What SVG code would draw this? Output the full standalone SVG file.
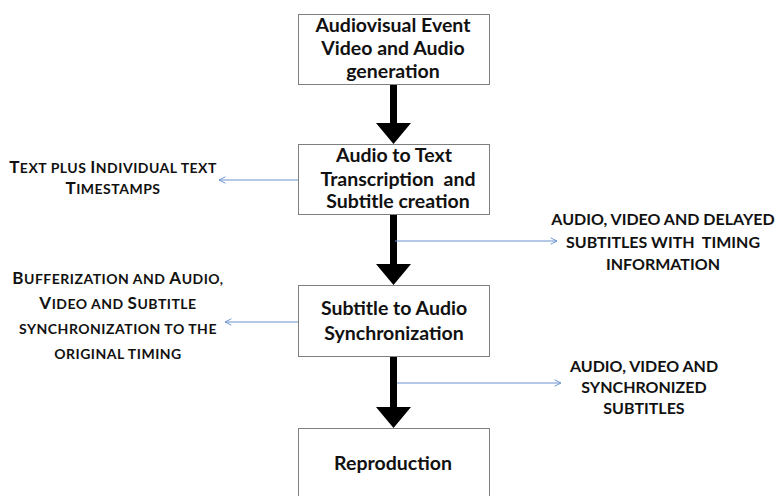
<svg xmlns="http://www.w3.org/2000/svg" width="782" height="496" viewBox="0 0 782 496">
  <style>
    .box { fill: #ffffff; stroke: #7f7f7f; stroke-width: 1; }
    .main { font-family: Lato, "Open Sans", "DejaVu Sans", sans-serif; font-weight: 700; font-size: 19.5px; fill: #111111; text-anchor: middle; }
    .side { font-family: Lato, "Open Sans", "DejaVu Sans", sans-serif; font-weight: 700; font-size: 16px; fill: #111111; text-anchor: middle; }
    .sc { font-family: Lato, "Open Sans", "DejaVu Sans", sans-serif; font-weight: 700; font-size: 14px; letter-spacing: 0.5px; fill: #111111; text-anchor: middle; }
    .cap { font-size: 17px; }
    .flow { fill: #000000; }
    .info { stroke: #6a93cf; stroke-width: 1; fill: none; marker-end: url(#chev); }
  </style>
  <defs>
    <marker id="chev" viewBox="0 0 10 10" refX="9" refY="5" markerWidth="8" markerHeight="8" markerUnits="userSpaceOnUse" orient="auto">
      <path d="M1,1 L9,5 L1,9" fill="none" stroke="#6a93cf" stroke-width="1.2"/>
    </marker>
  </defs>

  <rect width="782" height="496" fill="#ffffff"/>

  <!-- connectors: thick flow arrows and thin information arrows -->
  <g id="connectors">
    <path class="flow" d="M390,84 H397 V123 H411 L393.5,144 L376,123 H390 Z"/>
    <path class="flow" d="M390,214 H397 V264 H411 L393.5,285 L376,264 H390 Z"/>
    <path class="flow" d="M390,356 H397 V407 H411 L393.5,428 L376,407 H390 Z"/>
    <line class="info" x1="298" y1="180" x2="219" y2="180"/>
    <line class="info" x1="395" y1="241" x2="557" y2="241"/>
    <line class="info" x1="298" y1="322" x2="225" y2="322"/>
    <line class="info" x1="397" y1="383" x2="561" y2="383"/>
  </g>

  <g id="node-event">
    <rect class="box" x="298.5" y="14.5" width="191" height="70"/>
    <text class="main" x="393" y="32">Audiovisual Event</text>
    <text class="main" x="393" y="55">Video and Audio</text>
    <text class="main" x="393" y="78">generation</text>
  </g>

  <g id="node-transcription">
    <rect class="box" x="298.5" y="144.5" width="191" height="70"/>
    <text class="main" x="394" y="162">Audio to Text</text>
    <text class="main" x="398" y="186" xml:space="preserve">Transcription  and</text>
    <text class="main" x="398" y="208">Subtitle creation</text>
  </g>

  <g id="node-sync">
    <rect class="box" x="298.5" y="285.5" width="191" height="71"/>
    <text class="main" x="394" y="315">Subtitle to Audio</text>
    <text class="main" x="394" y="340">Synchronization</text>
  </g>

  <g id="node-reproduction">
    <rect class="box" x="298.5" y="428.5" width="191" height="70"/>
    <text class="main" x="393" y="470">Reproduction</text>
  </g>

  <g id="label-timestamps">
    <text class="sc" x="113" y="173"><tspan class="cap">T</tspan>EXT PLUS <tspan class="cap">I</tspan>NDIVIDUAL TEXT</text>
    <text class="sc" x="113" y="194"><tspan class="cap">T</tspan>IMESTAMPS</text>
  </g>

  <g id="label-delayed">
    <text class="side" x="663" y="225">AUDIO, VIDEO AND DELAYED</text>
    <text class="side" x="663" y="248" xml:space="preserve">SUBTITLES WITH  TIMING</text>
    <text class="side" x="663" y="270">INFORMATION</text>
  </g>

  <g id="label-buffer">
    <text class="sc" x="118" y="284"><tspan class="cap">B</tspan>UFFERIZATION AND <tspan class="cap">A</tspan>UDIO,</text>
    <text class="sc" x="118" y="309"><tspan class="cap">V</tspan>IDEO AND <tspan class="cap">S</tspan>UBTITLE</text>
    <text class="sc" x="118" y="334">SYNCHRONIZATION TO THE</text>
    <text class="sc" x="118" y="359">ORIGINAL TIMING</text>
  </g>

  <g id="label-synchronized">
    <text class="side" x="644" y="372">AUDIO, VIDEO AND</text>
    <text class="side" x="644" y="393">SYNCHRONIZED</text>
    <text class="side" x="644" y="414">SUBTITLES</text>
  </g>
</svg>
